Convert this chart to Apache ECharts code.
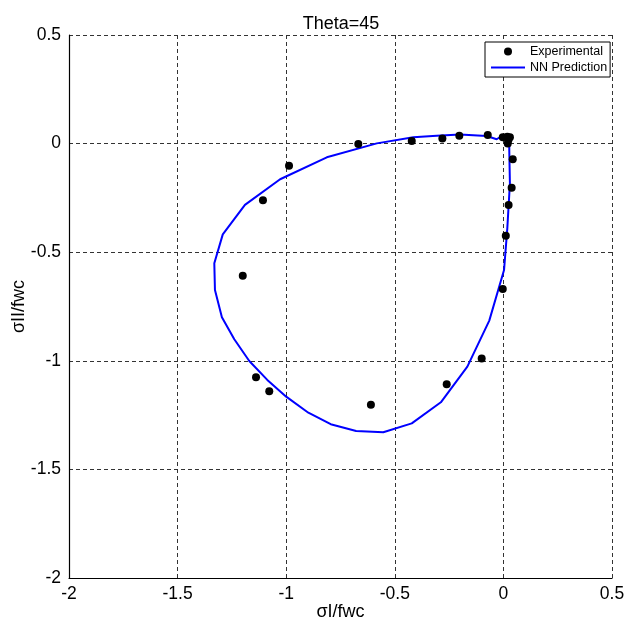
<!DOCTYPE html>
<html>
<head>
<meta charset="utf-8">
<title>Theta=45</title>
<script src="https://cdn.jsdelivr.net/npm/echarts@6/dist/echarts.min.js"></script>
<style>
  html, body { margin: 0; padding: 0; background: #fff; }
  #chart { width: 627px; height: 626px; }
</style>
</head>
<body>
<div id="chart"></div>
<script>
// Axis ticks
var xTicks = [-2, -1.5, -1, -0.5, 0, 0.5];
var yTicks = [-2, -1.5, -1, -0.5, 0, 0.5];

// Experimental failure points (σI/fwc, σII/fwc)
var expX = [-0.668, -0.422, -0.281, -0.203, -0.072, -0.003, 0.018, 0.030, 0.023, 0.020,
            0.043, 0.038, 0.024, 0.011, -0.003, -0.100, -0.261, -0.610, -1.078, -1.139,
            -1.200, -1.107, -0.987];
var expY = [-0.002, 0.012, 0.024, 0.036, 0.040, 0.029, 0.032, 0.029, 0.017, 0.001,
            -0.072, -0.203, -0.283, -0.424, -0.669, -0.989, -1.108, -1.202, -1.140, -1.076,
            -0.608, -0.261, -0.102];

// Neural-network predicted failure envelope (closed loop)
var nnX = [0.027, 0.018, -0.008, -0.031, -0.077, -0.200, -0.307, -0.415, -0.583, -0.813,
           -1.028, -1.190, -1.292, -1.331, -1.328, -1.296, -1.239, -1.170, -1.087, -1.000,
           -0.898, -0.795, -0.678, -0.553, -0.422, -0.288, -0.166, -0.065, 0.003, 0.018,
           0.030, 0.027, 0.027];
var nnY = [-0.006, 0.029, 0.035, 0.020, 0.035, 0.042, 0.036, 0.029, 0.001, -0.063,
           -0.164, -0.282, -0.418, -0.551, -0.674, -0.799, -0.901, -1.001, -1.088, -1.165,
           -1.239, -1.292, -1.323, -1.329, -1.288, -1.191, -1.027, -0.815, -0.582, -0.390,
           -0.183, -0.029, -0.006];

function pairs(xs, ys) {
  return xs.map(function (x, i) { return [x, ys[i]]; });
}

var FONT = '"Liberation Sans", Arial, Helvetica, sans-serif';

var chart = echarts.init(document.getElementById('chart'), null, { renderer: 'canvas' });

var gridLine = { show: true, lineStyle: { color: '#333', width: 1, type: [4, 3] } };

chart.setOption({
  animation: false,
  backgroundColor: '#fff',
  textStyle: { fontFamily: FONT },
  title: {
    text: 'Theta=45',
    left: 341,
    top: 15,
    padding: 0,
    textAlign: 'center',
    textStyle: { fontFamily: FONT, fontSize: 18, fontWeight: 'normal', color: '#000' }
  },
  grid: { left: 69, right: 15, top: 35, bottom: 48, containLabel: false, outerBoundsMode: 'none' },
  legend: {
    orient: 'vertical',
    left: 485,
    top: 42,
    padding: [3, 3, 3, 5],
    itemGap: 3,
    itemWidth: 34,
    itemHeight: 8,
    borderColor: '#000',
    borderWidth: 1,
    backgroundColor: '#fff',
    textStyle: { fontFamily: FONT, fontSize: 12.5, color: '#000' },
    data: [
      { name: 'Experimental', icon: 'circle' },
      { name: 'NN Prediction', itemStyle: { opacity: 0 } }
    ]
  },
  xAxis: {
    type: 'value',
    min: xTicks[0],
    max: xTicks[xTicks.length - 1],
    interval: 0.5,
    name: 'σI/fwc',
    nameLocation: 'middle',
    nameGap: 25,
    nameMoveOverlap: false,
    nameTextStyle: { fontFamily: FONT, fontSize: 18, color: '#000' },
    axisLine: { show: true, onZero: false, lineStyle: { color: '#000', width: 1.2 } },
    axisTick: { show: false },
    axisLabel: { margin: 7, fontFamily: FONT, fontSize: 17.5, color: '#000' },
    splitLine: gridLine
  },
  yAxis: {
    type: 'value',
    min: yTicks[0],
    max: yTicks[yTicks.length - 1],
    interval: 0.5,
    name: 'σII/fwc',
    nameLocation: 'middle',
    nameGap: 41,
    nameMoveOverlap: false,
    nameTextStyle: { fontFamily: FONT, fontSize: 18, color: '#000' },
    axisLine: { show: true, onZero: false, lineStyle: { color: '#000', width: 1.2 } },
    axisTick: { show: false },
    axisLabel: { margin: 8, fontFamily: FONT, fontSize: 17.5, color: '#000' },
    splitLine: gridLine
  },
  series: [
    {
      name: 'Experimental',
      type: 'scatter',
      data: pairs(expX, expY),
      symbol: 'circle',
      symbolSize: 8,
      itemStyle: { color: '#000', opacity: 1 },
      z: 3
    },
    {
      name: 'NN Prediction',
      type: 'line',
      data: pairs(nnX, nnY),
      showSymbol: false,
      symbol: 'none',
      smooth: false,
      lineStyle: { color: '#0000ff', width: 2 },
      itemStyle: { color: '#0000ff' },
      z: 2
    }
  ]
});
</script>
</body>
</html>
